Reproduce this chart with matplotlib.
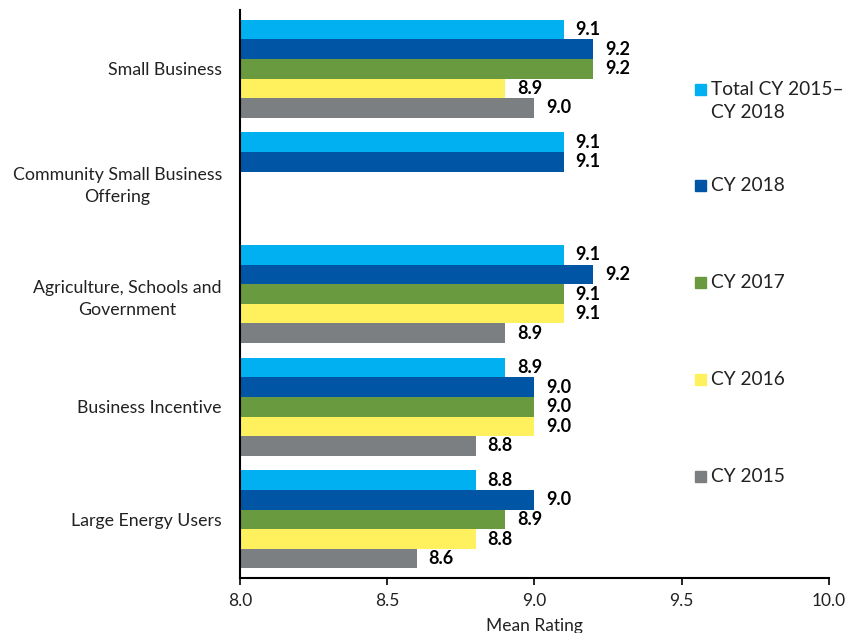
import matplotlib.pyplot as plt
import matplotlib.patches as mpatches
import numpy as np

plt.rcParams["font.family"] = ["Lato", "DejaVu Sans"]

categories = [
    "Small Business",
    "Community Small Business\nOffering",
    "Agriculture, Schools and\nGovernment",
    "Business Incentive",
    "Large Energy Users",
]
series_names = ["Total CY 2015–\nCY 2018", "CY 2018", "CY 2017", "CY 2016", "CY 2015"]
colors = ["#00B0F0", "#0055A5", "#6A9A3F", "#FFF15E", "#7B7F82"]

total_15_18 = [9.1, 9.1, 9.1, 8.9, 8.8]
cy_2018 = [9.2, 9.1, 9.2, 9.0, 9.0]
cy_2017 = [9.2, None, 9.1, 9.0, 8.9]
cy_2016 = [8.9, None, 9.1, 9.0, 8.8]
cy_2015 = [9.0, None, 8.9, 8.8, 8.6]
series = [total_15_18, cy_2018, cy_2017, cy_2016, cy_2015]

xticks = [8.0, 8.5, 9.0, 9.5, 10.0]

fig = plt.figure(figsize=(8.47, 6.33), dpi=100)
ax = fig.add_axes([0.2834, 0.0869, 0.9787 - 0.2834, 0.984 - 0.0869])

h = 0.174
y = np.arange(len(categories))
for k, (vals, col) in enumerate(zip(series, colors)):
    for i, v in enumerate(vals):
        if v is None:
            continue
        yy = y[i] + (k - 2) * h
        ax.barh(yy, v - 8.0, left=8.0, height=h, color=col, edgecolor="none")
        ax.text(v + 0.04, yy, f"{v:.1f}", va="center", ha="left",
                fontsize=13, fontweight="bold", color="black")

ax.set_xlim(8.0, 10.0)
ax.set_ylim(4.52, -0.52)
ax.set_xticks(xticks)
ax.set_xticklabels([f"{t:.1f}" for t in xticks], fontsize=12.5, color="#222222")
ax.set_yticks(y)
ax.set_yticklabels(categories, fontsize=12.8, color="#222222",
                   multialignment="center", linespacing=1.5)
ax.tick_params(axis="y", length=0, pad=13)
ax.tick_params(axis="x", length=5, width=1.2, direction="out", pad=6)
ax.set_xlabel("Mean Rating", fontsize=12.5, color="#222222", labelpad=6)
for s in ["top", "right"]:
    ax.spines[s].set_visible(False)
for s in ["left", "bottom"]:
    ax.spines[s].set_linewidth(1.5)
    ax.spines[s].set_color("black")

# legend drawn by hand so the two-line entry keeps its marker on the first line
leg_y = [90, 186, 283, 380, 477]
for name, col, py in zip(series_names, colors, leg_y):
    fy = 1 - py / 633
    fig.patches.append(mpatches.Rectangle((695 / 847, fy - 5 / 633), 11 / 847, 11 / 633,
                                          transform=fig.transFigure, color=col))
    fig.text(711 / 847, fy + 9 / 633, name, fontsize=13.8, va="top", ha="left",
             color="#222222", linespacing=1.45)

fig.savefig("out.png", dpi=100)
